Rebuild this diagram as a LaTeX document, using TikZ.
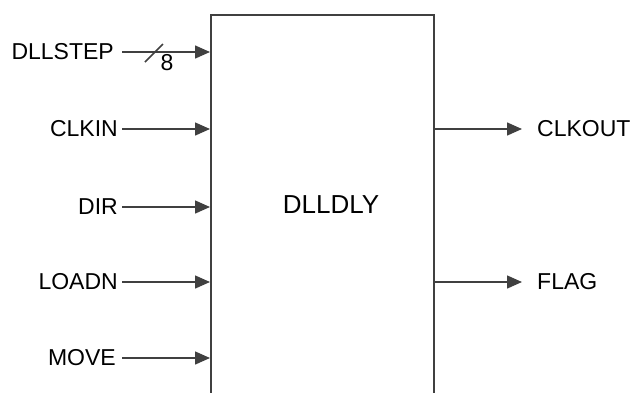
\documentclass[tikz,border=0pt]{standalone}
\usepackage{fontspec}
\setmainfont{Liberation Sans}
\usetikzlibrary{arrows.meta,positioning}

\tikzset{
  wire/.style={draw=black!75, line width=1.5pt},
  sig/.style={wire, -{Triangle[length=15pt,width=13pt]}},
  pin/.style={font=\fontsize{23}{27}\selectfont, inner sep=0pt},
  inpin/.style={pin, anchor=east},
  outpin/.style={pin, anchor=west},
  block/.style={wire, rectangle, anchor=north west,
    minimum width=223pt, minimum height=420pt, inner sep=0pt}
}

\begin{document}
\begin{tikzpicture}[x=1pt,y=-1pt]
\useasboundingbox (0,0) rectangle (634,392);
\clip (0,0) rectangle (634,392);

\node[block](dly) at (210,14){};
\node[font=\fontsize{26}{30}\selectfont](name) at (331,205){DLLDLY};

\node[inpin](dllstep) at (114,52){DLLSTEP};
\node[inpin](clkin) at (118,129){CLKIN};
\node[inpin](dir) at (118,207){DIR};
\node[inpin](loadn) at (118,282){LOADN};
\node[inpin](move) at (116,358){MOVE};

\node[outpin](clkout) at (537,129){CLKOUT};
\node[outpin](flag) at (537,282){FLAG};

\draw[sig] ([xshift=8pt]dllstep.east) -- (dllstep.east -| dly.west);
\draw[sig] ([xshift=4pt]clkin.east) -- (clkin.east -| dly.west);
\draw[sig] ([xshift=4pt]dir.east) -- (dir.east -| dly.west);
\draw[sig] ([xshift=4pt]loadn.east) -- (loadn.east -| dly.west);
\draw[sig] ([xshift=6pt]move.east) -- (move.east -| dly.west);
\draw[sig] (dly.east |- clkout.west) -- ([xshift=-15pt]clkout.west);
\draw[sig] (dly.east |- flag.west) -- ([xshift=-15pt]flag.west);

\coordinate (bus) at (154,53);
\draw[wire] ([shift={(-9,9)}]bus) -- ([shift={(9,-9)}]bus);
\node[pin](width) at (167,63){8};

\end{tikzpicture}
\end{document}
